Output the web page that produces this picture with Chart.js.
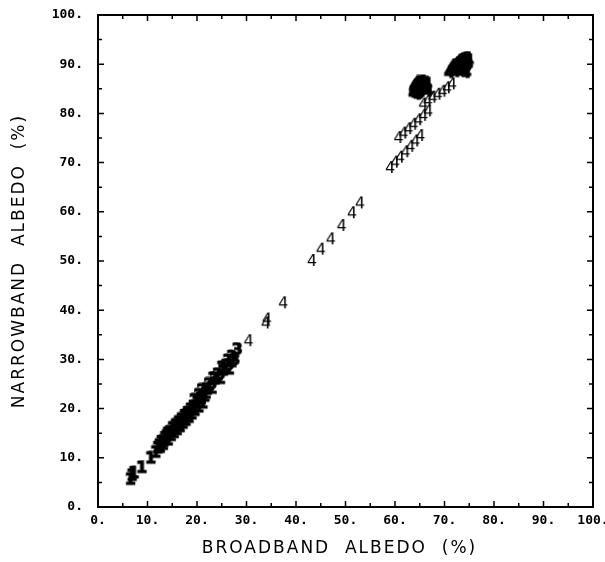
<!DOCTYPE html>
<html>
<head>
<meta charset="utf-8">
<script src="https://cdn.jsdelivr.net/npm/chart.js@4.4.1/dist/chart.umd.min.js"></script>
<style>
  html, body { margin: 0; padding: 0; background: #fff; }
</style>
</head>
<body>
<canvas id="albedo" width="605" height="562"></canvas>
<script>
// Broadband vs narrowband albedo (%), one array per plot symbol: [broadband, narrowband]
var type1 = [
    [6.5, 5.5], [6.8, 6.3], [7.2, 6.8], [8.8, 7.9], [10.6, 9.8],
    [11.6, 11.0], [12.0, 11.9], [12.3, 12.4], [12.7, 13.1], [13.1, 12.6],
    [13.4, 13.9], [13.8, 14.3], [14.1, 13.5], [14.4, 15.1], [14.7, 14.4],
    [15.0, 15.9], [15.3, 15.0], [15.6, 16.5], [15.9, 15.6], [16.2, 17.1],
    [16.5, 16.2], [16.8, 17.7], [17.1, 16.9], [17.4, 18.4], [17.7, 17.5],
    [18.0, 19.0], [18.3, 18.1], [18.6, 19.7], [18.9, 18.8], [19.2, 20.3],
    [19.5, 19.5], [19.9, 21.1], [20.3, 20.2], [20.7, 21.8], [21.1, 21.0],
    [21.5, 22.4], [14.0, 14.8], [15.5, 15.8], [16.4, 16.6], [17.3, 17.6],
    [18.2, 18.6], [19.3, 19.9], [13.2, 13.2], [12.5, 12.0]
];
var type2 = [
    [19.5, 21.6], [20.4, 22.6], [21.0, 23.6], [21.8, 23.0], [22.4, 24.8],
    [23.0, 24.0], [23.6, 25.9], [24.2, 26.8], [24.7, 26.0], [25.3, 27.7],
    [25.9, 28.6], [26.5, 27.9], [27.0, 29.4], [20.8, 22.0], [22.0, 23.8]
];
var type3 = [
    [23.2, 26.0], [25.0, 28.2], [26.2, 29.6], [27.0, 30.4], [27.6, 29.8],
    [28.1, 31.9]
];
var type4 = [
    [30.4, 33.6], [33.9, 37.2], [34.1, 38.0], [37.4, 41.3],
    [43.2, 49.9], [45.0, 52.2], [47.0, 54.3], [49.2, 57.0], [51.3, 59.6], [52.9, 61.6],
    [59.0, 68.8], [60.0, 69.9], [61.0, 70.9], [62.1, 72.0], [63.1, 73.1], [64.1, 74.2], [65.1, 75.3],
    [60.7, 74.9], [61.7, 75.8], [62.7, 76.7], [63.7, 77.6], [64.7, 78.5], [65.7, 79.4], [66.7, 80.3],
    [65.7, 81.7], [66.6, 82.4], [67.6, 83.1], [68.6, 83.7], [69.6, 84.3], [70.5, 85.0], [71.5, 85.8]
];
// heavily overprinted "4" points near the top of the range
var type4Dense = [
    [63.8, 84.0], [64.2, 84.6], [64.6, 85.2], [65.0, 85.8], [65.4, 86.3],
    [65.8, 85.6], [66.2, 85.0], [66.6, 84.5], [64.0, 85.5], [64.5, 86.2],
    [65.1, 84.4], [65.6, 84.9], [66.0, 86.0], [64.4, 83.8], [65.3, 85.5],
    [66.4, 85.8], [63.9, 85.0], [64.8, 84.0],
    [71.0, 88.2], [71.5, 88.8], [72.0, 89.4], [72.5, 90.0], [73.0, 90.5],
    [73.5, 90.8], [74.0, 91.0], [74.5, 91.0], [74.8, 90.6], [74.5, 89.8],
    [74.0, 89.0], [73.5, 88.4], [73.0, 89.2], [72.5, 88.8], [73.8, 90.0],
    [74.3, 88.2], [72.2, 88.4], [71.8, 89.6], [74.6, 90.0]
];

var tickLabels = ['0.', '10.', '20.', '30.', '40.', '50.', '60.', '70.', '80.', '90.', '100.'];
var xTitle = 'BROADBAND  ALBEDO  (%)';
var yTitle = 'NARROWBAND  ALBEDO  (%)';

function toXY(arr) {
    return arr.map(function (p) { return { x: p[0], y: p[1] }; });
}

// small canvas holding one digit, used as a point style
function glyph(ch, heavy) {
    var c = document.createElement('canvas');
    c.width = 14;
    c.height = 17;
    var g = c.getContext('2d');
    g.font = (heavy ? 'bold' : 'normal') + ' 16px "DejaVu Sans"';
    g.textAlign = 'center';
    g.textBaseline = 'middle';
    g.fillStyle = '#000';
    g.fillText(ch, 7, 9);
    if (heavy) {
        g.strokeStyle = '#000';
        g.lineWidth = 1.2;
        g.strokeText(ch, 7, 9);
    }
    return c;
}

// box round the plot with inward ticks on all four sides
Chart.register({
    id: 'frame',
    afterDatasetsDraw: function (chart) {
        var ctx = chart.ctx, a = chart.chartArea;
        var xs = chart.scales.x, ys = chart.scales.y;
        ctx.save();
        ctx.strokeStyle = '#000';
        ctx.lineWidth = 2;
        ctx.strokeRect(a.left, a.top, a.right - a.left, a.bottom - a.top);
        ctx.lineWidth = 1.5;
        ctx.beginPath();
        xs.ticks.forEach(function (t, i) {
            var vals = [t.value];
            if (i > 0) vals.push((t.value + xs.ticks[i - 1].value) / 2);
            vals.forEach(function (v, k) {
                var len = k === 0 ? 6 : 4;
                var px = xs.getPixelForValue(v);
                ctx.moveTo(px, a.bottom); ctx.lineTo(px, a.bottom - len);
                ctx.moveTo(px, a.top); ctx.lineTo(px, a.top + len);
            });
        });
        ys.ticks.forEach(function (t, i) {
            var vals = [t.value];
            if (i > 0) vals.push((t.value + ys.ticks[i - 1].value) / 2);
            vals.forEach(function (v, k) {
                var len = k === 0 ? 6 : 4;
                var py = ys.getPixelForValue(v);
                ctx.moveTo(a.left, py); ctx.lineTo(a.left + len, py);
                ctx.moveTo(a.right, py); ctx.lineTo(a.right - len, py);
            });
        });
        ctx.stroke();
        ctx.restore();
    }
});

// spaced-out axis titles
Chart.register({
    id: 'axisTitles',
    afterDraw: function (chart) {
        var ctx = chart.ctx, a = chart.chartArea;
        ctx.save();
        ctx.fillStyle = '#000';
        ctx.font = '17px "DejaVu Sans"';
        ctx.letterSpacing = '2px';
        ctx.textAlign = 'center';
        ctx.textBaseline = 'middle';
        ctx.fillText(xTitle, (a.left + a.right) / 2 - 6, 549);
        ctx.translate(20, (a.top + a.bottom) / 2);
        ctx.rotate(-Math.PI / 2);
        ctx.fillText(yTitle, 0, 0);
        ctx.restore();
    }
});

var tickFont = { family: '"DejaVu Sans Mono"', size: 13, weight: 'bold' };

var ctx = document.getElementById('albedo').getContext('2d');
var chart = new Chart(ctx, {
    type: 'scatter',
    data: {
        datasets: [
            { label: '1', data: toXY(type1), pointStyle: glyph('1', true), pointRadius: 6 },
            { label: '2', data: toXY(type2), pointStyle: glyph('2', true), pointRadius: 6 },
            { label: '3', data: toXY(type3), pointStyle: glyph('3', true), pointRadius: 6 },
            { label: '4', data: toXY(type4), pointStyle: glyph('4', false), pointRadius: 6 },
            { label: '4 dense', data: toXY(type4Dense), pointStyle: glyph('4', true), pointRadius: 6 }
        ]
    },
    options: {
        responsive: false,
        devicePixelRatio: 1,
        animation: false,
        layout: { padding: { top: 15, right: 12, left: 0, bottom: 0 } },
        plugins: {
            legend: { display: false },
            tooltip: { enabled: false }
        },
        scales: {
            x: {
                type: 'linear',
                min: 0,
                max: 100,
                grid: { display: false, drawTicks: false },
                border: { display: false },
                ticks: {
                    stepSize: 10,
                    autoSkip: false,
                    maxRotation: 0,
                    padding: 6,
                    color: '#000',
                    font: tickFont,
                    callback: function (v, i) { return tickLabels[i]; }
                },
                afterFit: function (scale) {
                    scale.height = 55;
                    scale.paddingLeft = 0;
                    scale.paddingRight = 0;
                }
            },
            y: {
                type: 'linear',
                min: 0,
                max: 100,
                grid: { display: false, drawTicks: false },
                border: { display: false },
                ticks: {
                    stepSize: 10,
                    autoSkip: false,
                    padding: 15,
                    color: '#000',
                    font: tickFont,
                    callback: function (v, i) { return tickLabels[i]; }
                },
                afterFit: function (scale) {
                    scale.width = 98;
                    scale.paddingTop = 0;
                    scale.paddingBottom = 0;
                }
            }
        }
    }
});
</script>
</body>
</html>
